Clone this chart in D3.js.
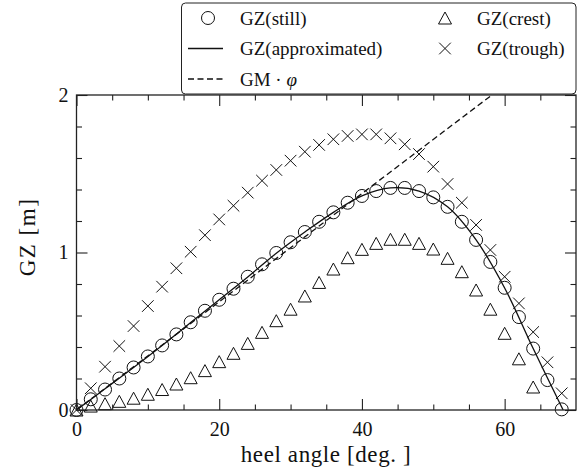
<!DOCTYPE html>
<html>
<head>
<meta charset="utf-8">
<script src="https://cdn.jsdelivr.net/npm/d3@7"></script>
<style>
  body { margin: 0; background: #fff; }
  svg text { font-family: "Liberation Serif", "DejaVu Serif", serif !important; fill: #111; }
</style>
</head>
<body>
<div id="chart"></div>
<script>
// Data
let stillX = [0, 2, 4, 6, 8, 10, 12, 14, 16, 18, 20, 22, 24, 26, 28, 30, 32, 34, 36, 38, 40, 42, 44, 46, 48, 50, 52, 54, 56, 58, 60, 62, 64, 66, 68];
let stillY = [0, 0.068, 0.13, 0.20, 0.27, 0.34, 0.41, 0.48, 0.557, 0.63, 0.70, 0.77, 0.846, 0.925, 0.997, 1.065, 1.13, 1.195, 1.255, 1.316, 1.359, 1.39, 1.41, 1.41, 1.39, 1.35, 1.29, 1.195, 1.08, 0.94, 0.776, 0.59, 0.39, 0.19, 0.004];

let crestX = [0, 2, 4, 6, 8, 10, 12, 14, 16, 18, 20, 22, 24, 26, 28, 30, 32, 34, 36, 38, 40, 42, 44, 46, 48, 50, 52, 54, 56, 58, 60, 62, 64];
let crestY = [0, 0.025, 0.04, 0.055, 0.075, 0.10, 0.13, 0.165, 0.205, 0.25, 0.307, 0.36, 0.423, 0.493, 0.567, 0.64, 0.724, 0.81, 0.895, 0.967, 1.02, 1.058, 1.084, 1.084, 1.058, 1.022, 0.963, 0.878, 0.762, 0.64, 0.487, 0.325, 0.146];

let troughX = [0, 2, 4, 6, 8, 10, 12, 14, 16, 18, 20, 22, 24, 26, 28, 30, 32, 34, 36, 38, 40, 42, 44, 46, 48, 50, 52, 54, 56, 58, 60, 62, 64, 66, 68];
let troughY = [0, 0.138, 0.275, 0.406, 0.533, 0.66, 0.783, 0.9, 1.005, 1.11, 1.21, 1.297, 1.38, 1.456, 1.524, 1.583, 1.64, 1.683, 1.719, 1.74, 1.75, 1.75, 1.725, 1.687, 1.625, 1.545, 1.435, 1.316, 1.175, 1.016, 0.846, 0.677, 0.495, 0.303, 0.106];

let approxX = [0, 4, 8, 12, 16, 20, 24, 28, 32, 36, 40, 44, 48, 52, 56, 60, 64, 68.2];
let approxY = [0, 0.135, 0.27, 0.41, 0.555, 0.70, 0.845, 0.995, 1.13, 1.255, 1.36, 1.41, 1.39, 1.29, 1.08, 0.775, 0.39, 0];

// GM * phi straight line (end points)
let gmX = [0, 70];
let gmY = [0, 2.405];

let xTicks = [0, 20, 40, 60];
let xMinor = [5, 10, 15, 25, 30, 35, 45, 50, 55, 65];
let yTicks = [0, 1, 2];
let yMinor = [0.2, 0.4, 0.6, 0.8, 1.2, 1.4, 1.6, 1.8];

const serif = '"Liberation Serif", "DejaVu Serif", serif';

// Set svg and chart dimensions
let svgWidth = 584;
let svgHeight = 474;
let margins = { top: 95, bottom: 64, left: 76.5, right: 8 };
let chartWidth = svgWidth - margins.left - margins.right;
let chartHeight = svgHeight - margins.top - margins.bottom;

let svg = d3.select('#chart').append('svg')
    .attr('width', svgWidth)
    .attr('height', svgHeight)
    .attr('font-family', serif);
let chart = svg.append('g')
    .attr('transform', `translate(${margins.left}, ${margins.top})`);

// Scales
let xScale = d3.scaleLinear().domain([0, 70]).range([0, chartWidth]);
let yScale = d3.scaleLinear().domain([0, 2]).range([chartHeight, 0]);

// Axes (ticks pointing inward on all four sides)
function styleAxis(g) {
    g.attr('font-family', serif);
    g.select('.domain').remove();
    g.selectAll('line').attr('stroke', '#222').attr('stroke-width', 1.1);
}
chart.append('g').attr('transform', `translate(0, ${chartHeight})`)
    .call(d3.axisBottom(xScale).tickValues(xTicks).tickSize(-11).tickPadding(12))
    .call(styleAxis)
    .selectAll('text').style('font-size', '20px').attr('fill', '#111');
chart.append('g').attr('transform', `translate(0, ${chartHeight})`)
    .call(d3.axisBottom(xScale).tickValues(xMinor).tickSize(-5.5).tickFormat(''))
    .call(styleAxis);
chart.append('g')
    .call(d3.axisTop(xScale).tickValues(xTicks).tickSize(-11).tickFormat(''))
    .call(styleAxis);
chart.append('g')
    .call(d3.axisTop(xScale).tickValues(xMinor).tickSize(-5.5).tickFormat(''))
    .call(styleAxis);

chart.append('g')
    .call(d3.axisLeft(yScale).tickValues(yTicks).tickSize(-11).tickPadding(8).tickFormat(d3.format('d')))
    .call(styleAxis)
    .selectAll('text').style('font-size', '20px').attr('fill', '#111');
chart.append('g')
    .call(d3.axisLeft(yScale).tickValues(yMinor).tickSize(-5.5).tickFormat(''))
    .call(styleAxis);
chart.append('g').attr('transform', `translate(${chartWidth}, 0)`)
    .call(d3.axisRight(yScale).tickValues(yTicks).tickSize(-11).tickFormat(''))
    .call(styleAxis);
chart.append('g').attr('transform', `translate(${chartWidth}, 0)`)
    .call(d3.axisRight(yScale).tickValues(yMinor).tickSize(-5.5).tickFormat(''))
    .call(styleAxis);

// Clip
svg.append('defs').append('clipPath').attr('id', 'plotClip')
    .append('rect').attr('width', chartWidth).attr('height', chartHeight);

let lineGen = d3.line().x(d => xScale(d[0])).y(d => yScale(d[1]));

// GM * phi dashed line
chart.append('path')
    .datum(d3.zip(gmX, gmY))
    .attr('clip-path', 'url(#plotClip)')
    .attr('d', lineGen)
    .attr('fill', 'none')
    .attr('stroke', '#111')
    .attr('stroke-width', 1.3)
    .attr('stroke-dasharray', '6,3.5');

// Approximated GZ curve
chart.append('path')
    .datum(d3.zip(approxX, approxY))
    .attr('clip-path', 'url(#plotClip)')
    .attr('d', lineGen.curve(d3.curveCatmullRom))
    .attr('fill', 'none')
    .attr('stroke', '#111')
    .attr('stroke-width', 1.3);

// Marker shapes
let triPath = 'M0,-6 L6.5,6 L-6.5,6 Z';
let crossPath = 'M-5.8,-5.8 L5.8,5.8 M-5.8,5.8 L5.8,-5.8';

// GZ(still) circles
chart.selectAll('circle.still')
    .data(d3.zip(stillX, stillY)).enter()
    .append('circle')
    .attr('class', 'still')
    .attr('cx', d => xScale(d[0]))
    .attr('cy', d => yScale(d[1]))
    .attr('r', 6.5)
    .attr('fill', 'none')
    .attr('stroke', '#111')
    .attr('stroke-width', 1);

// GZ(crest) triangles
chart.selectAll('path.crest')
    .data(d3.zip(crestX, crestY)).enter()
    .append('path')
    .attr('class', 'crest')
    .attr('transform', d => `translate(${xScale(d[0])}, ${yScale(d[1])})`)
    .attr('d', triPath)
    .attr('fill', 'none')
    .attr('stroke', '#111')
    .attr('stroke-width', 1);

// GZ(trough) crosses
chart.selectAll('path.trough')
    .data(d3.zip(troughX, troughY)).enter()
    .append('path')
    .attr('class', 'trough')
    .attr('transform', d => `translate(${xScale(d[0])}, ${yScale(d[1])})`)
    .attr('d', crossPath)
    .attr('fill', 'none')
    .attr('stroke', '#111')
    .attr('stroke-width', 1);

// Frame
chart.append('rect')
    .attr('width', chartWidth)
    .attr('height', chartHeight)
    .attr('fill', 'none')
    .attr('stroke', '#222')
    .attr('stroke-width', 1.3);

// Axis labels
svg.append('text')
    .attr('x', 326)
    .attr('y', 462)
    .attr('text-anchor', 'middle')
    .style('font-size', '23px')
    .style('letter-spacing', '0.6px')
    .text('heel angle [deg. ]');
svg.append('text')
    .attr('transform', `translate(35, 237) rotate(-90)`)
    .attr('text-anchor', 'middle')
    .style('font-size', '23px')
    .style('letter-spacing', '1.5px')
    .text('GZ [m]');

// Legend
let legend = svg.append('g');
legend.append('rect')
    .attr('x', 181.5).attr('y', 3)
    .attr('width', 394.5).attr('height', 91)
    .attr('rx', 4)
    .attr('fill', '#fff')
    .attr('stroke', '#222')
    .attr('stroke-width', 1);

let rowY = [18, 48.5, 79];
legend.append('circle').attr('cx', 208).attr('cy', rowY[0]).attr('r', 6.5)
    .attr('fill', 'none').attr('stroke', '#111');
legend.append('line').attr('x1', 188).attr('x2', 223).attr('y1', rowY[1]).attr('y2', rowY[1])
    .attr('stroke', '#111').attr('stroke-width', 1.3);
legend.append('line').attr('x1', 188).attr('x2', 223).attr('y1', rowY[2]).attr('y2', rowY[2])
    .attr('stroke', '#111').attr('stroke-width', 1.3).attr('stroke-dasharray', '6,3.5');
legend.append('path').attr('transform', `translate(445, ${rowY[0]})`).attr('d', triPath)
    .attr('fill', 'none').attr('stroke', '#111');
legend.append('path').attr('transform', `translate(445, ${rowY[1]})`).attr('d', crossPath)
    .attr('fill', 'none').attr('stroke', '#111');

let legendLabels = [
    { x: 240, y: rowY[0], t: 'GZ(still)' },
    { x: 240, y: rowY[1], t: 'GZ(approximated)' },
    { x: 477, y: rowY[0], t: 'GZ(crest)' },
    { x: 477, y: rowY[1], t: 'GZ(trough)' }
];
legend.selectAll('text.lab')
    .data(legendLabels).enter()
    .append('text')
    .attr('class', 'lab')
    .attr('x', d => d.x)
    .attr('y', d => d.y)
    .attr('dy', '0.35em')
    .style('font-size', '19px')
    .text(d => d.t);
let gm = legend.append('text')
    .attr('x', 240).attr('y', rowY[2]).attr('dy', '0.35em')
    .style('font-size', '19px');
gm.append('tspan').text('GM \u00b7 ');
gm.append('tspan').style('font-style', 'italic').text('\u03c6');
</script>
</body>
</html>
